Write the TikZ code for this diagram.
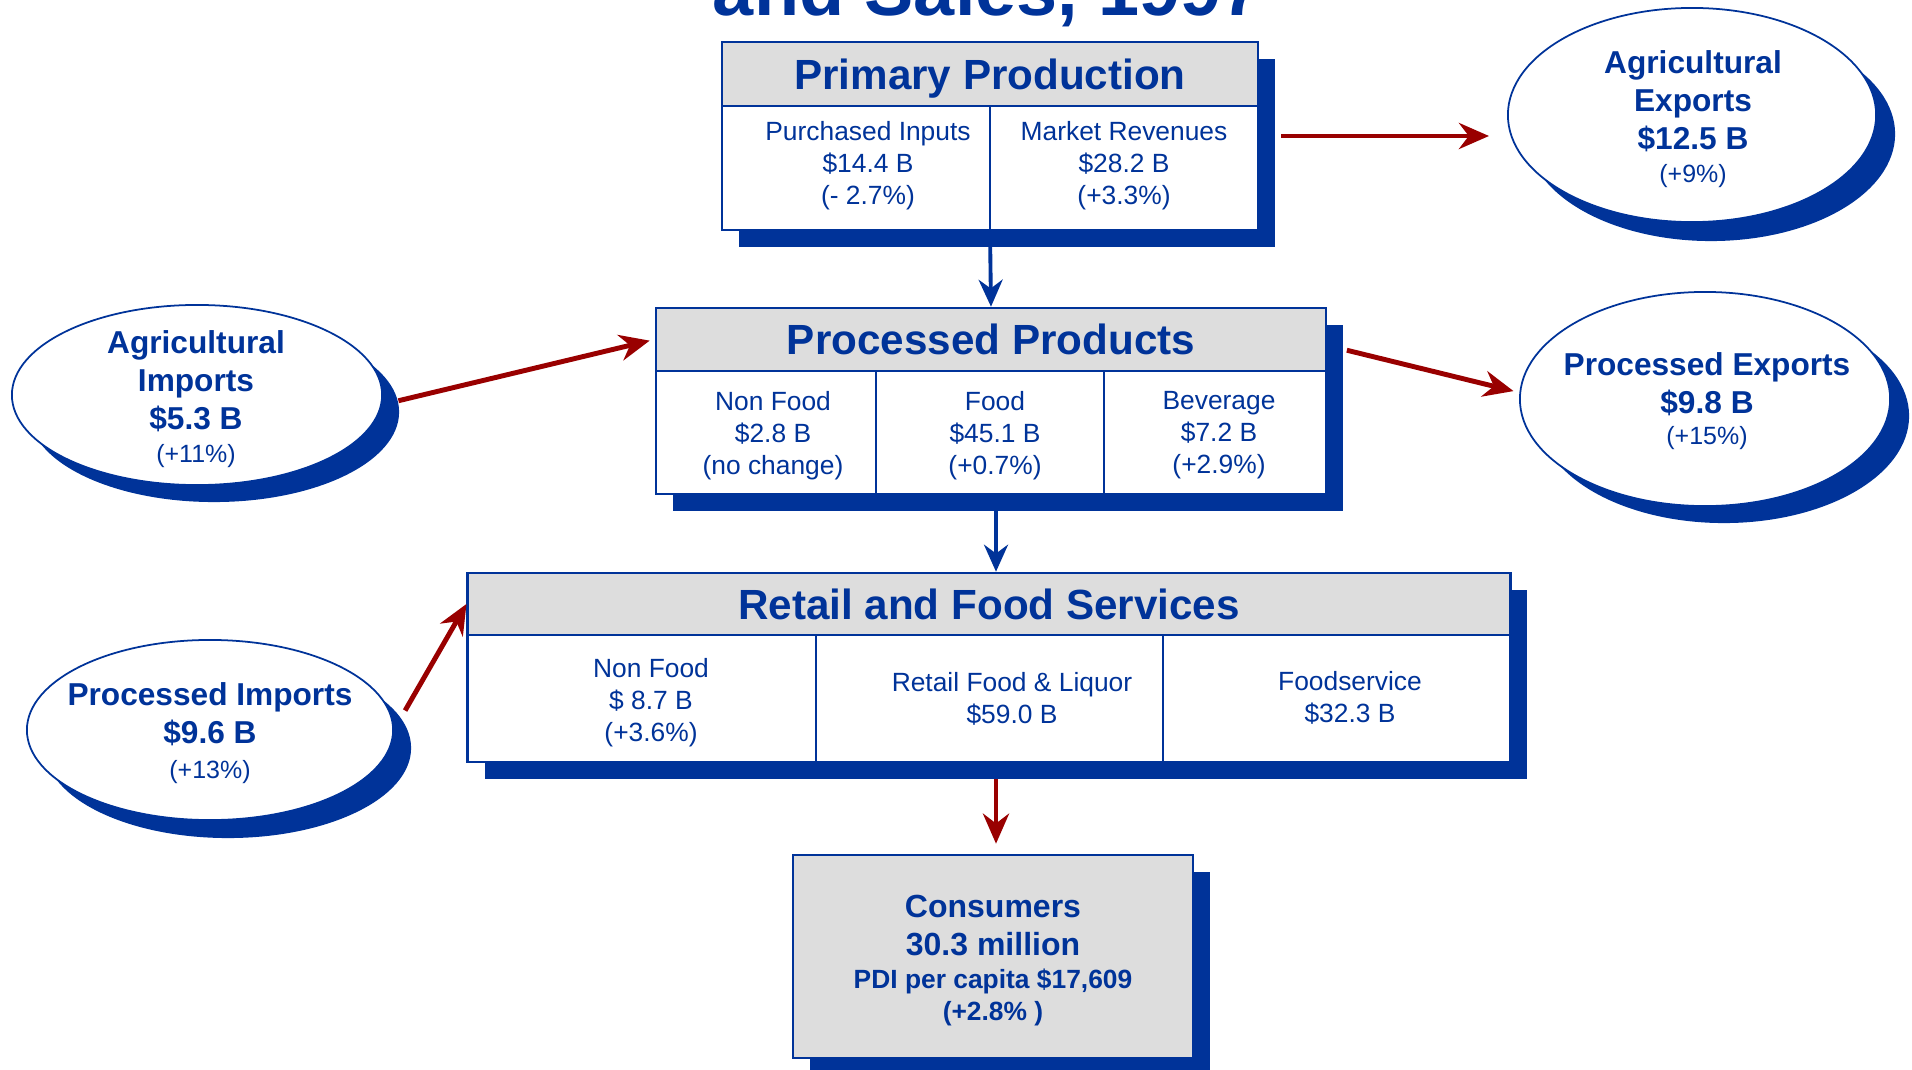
\documentclass[tikz,border=0pt]{standalone}
\usepackage{fontspec}
\setmainfont{Liberation Sans}
\usetikzlibrary{
  positioning,
  shapes.geometric,
  arrows.meta,
  }
\definecolor{dblue}{RGB}{0,51,153}
\definecolor{dred}{RGB}{153,0,0}
\definecolor{hgray}{RGB}{221,221,221}
\tikzset{
  boxsh/.style={rectangle, fill=dblue},
  body/.style={rectangle, draw=dblue, line width=0.7pt, fill=white},
  head/.style={rectangle, draw=dblue, line width=0.7pt, fill=hgray, anchor=north, text depth=0pt,
    font=\fontsize{12}{14}\selectfont\bfseries},
  cell/.style={align=center, font=\fontsize{7.5}{9.1}\selectfont},
  ovalsh/.style={ellipse, fill=dblue},
  oval/.style={ellipse, draw=dblue, line width=0.5pt, fill=white},
  ovaltext/.style={align=center, font=\fontsize{9}{10.8}\selectfont\bfseries},
  divline/.style={draw=dblue, line width=0.7pt},
  bluearr/.style={draw=dblue, line width=1.1pt, -{Stealth[length=0.27cm,width=0.24cm]}},
  redarr/.style={draw=dred, line width=1.4pt, -{Stealth[length=0.3cm,width=0.26cm]}},
}
\newcommand{\pc}[1]{{\fontsize{7.1}{9}\selectfont\mdseries #1}}
\begin{document}
\begin{tikzpicture}[x=0.01cm, y=-0.01cm, every node/.style={text=dblue, inner sep=0pt}]
    \useasboundingbox (0,0) rectangle (1912,1070);

    \node[anchor=base, font=\fontsize{21}{25}\selectfont\bfseries] (ttl) at (988,16) {and Sales, 1997};

    \node[boxsh, minimum width=5.36cm, minimum height=1.88cm] (prodsh) at (1007,153) {};
    \node[body, minimum width=5.36cm, minimum height=1.88cm] (prod) at (990,136) {};
    \node[head, minimum width=5.36cm, minimum height=0.64cm] (prodh) at (prod.north) {Primary Production};
    \draw[divline] (prodh.south) -- (prod.south);
    \node[cell] (prod1) at (868,165.5) {Purchased Inputs\\\$14.4 B\\(- 2.7\%)};
    \node[cell] (prod2) at (1124,165.5) {Market Revenues\\\$28.2 B\\(+3.3\%)};

    \node[boxsh, minimum width=6.70cm, minimum height=1.86cm] (procsh) at (1008,418) {};
    \node[body, minimum width=6.70cm, minimum height=1.86cm] (proc) at (991,401) {};
    \node[head, minimum width=6.70cm, minimum height=0.63cm] (proch) at (proc.north) {Processed Products};
    \draw[divline] (proch.south -| 876,0) -- (proc.south -| 876,0);
    \draw[divline] (proch.south -| 1104,0) -- (proc.south -| 1104,0);
    \node[cell] (proc1) at (773,435.5) {Non Food\\\$2.8 B\\(no change)};
    \node[cell] (proc2) at (995,435.5) {Food\\\$45.1 B\\(+0.7\%)};
    \node[cell] (proc3) at (1219,435.5) {Beverage\\\$7.2 B\\(+2.9\%)};

    \node[boxsh, minimum width=10.42cm, minimum height=1.89cm] (retsh) at (1006,684.5) {};
    \node[body, minimum width=10.42cm, minimum height=1.89cm] (ret) at (989,667.5) {};
    \node[head, minimum width=10.42cm, minimum height=0.62cm] (reth) at (ret.north) {Retail and Food Services};
    \draw[divline] (reth.south -| 816,0) -- (ret.south -| 816,0);
    \draw[divline] (reth.south -| 1163,0) -- (ret.south -| 1163,0);
    \node[cell] (ret1) at (651,702.5) {Non Food\\\$ 8.7 B\\(+3.6\%)};
    \node[cell] (ret2) at (1012,698.5) {Retail Food \& Liquor\\\$59.0 B};
    \node[cell] (ret3) at (1350,697.5) {Foodservice\\\$32.3 B};

    \node[boxsh, minimum width=4.00cm, minimum height=2.03cm] (conssh) at (1010,973.5) {};
    \node[body, fill=hgray, minimum width=4.00cm, minimum height=2.03cm] (cons) at (993,956.5) {};
    \node[align=center, font=\fontsize{9.1}{10.8}\selectfont\bfseries] (const) at (993,960.5)
      {Consumers\\30.3 million\\[-1.4pt]{\fontsize{7.5}{9.2}\selectfont PDI per capita \$17,609}\\[-1.7pt]{\fontsize{7.5}{9.2}\selectfont (+2.8\% )}};

    \node[ovalsh, minimum width=3.68cm, minimum height=2.14cm] (agexpsh) at (1711,134) {};
    \node[oval, minimum width=3.68cm, minimum height=2.14cm] (agexp) at (1692,115) {};
    \node[ovaltext] (agexpt) at (1693,119) {Agricultural\\Exports\\\$12.5 B\\[-1.4pt]\pc{(+9\%)}};

    \node[ovalsh, minimum width=3.70cm, minimum height=2.14cm] (prcexpsh) at (1724,416) {};
    \node[oval, minimum width=3.70cm, minimum height=2.14cm] (prcexp) at (1705,399) {};
    \node[ovaltext] (prcexpt) at (1707,401) {Processed Exports\\\$9.8 B\\[-2pt]\pc{(+15\%)}};

    \node[ovalsh, minimum width=3.70cm, minimum height=1.80cm] (agimpsh) at (214,412) {};
    \node[oval, minimum width=3.70cm, minimum height=1.80cm] (agimp) at (197,395) {};
    \node[ovaltext] (agimpt) at (196,399) {Agricultural\\Imports\\\$5.3 B\\[-1.4pt]\pc{(+11\%)}};

    \node[ovalsh, minimum width=3.66cm, minimum height=1.80cm] (prcimpsh) at (228,748) {};
    \node[oval, minimum width=3.66cm, minimum height=1.80cm] (prcimp) at (210,730) {};
    \node[ovaltext] (prcimpt) at (210,733) {Processed Imports\\\$9.6 B\\[-1pt]\pc{(+13\%)}};

    \draw[bluearr] (prod.south) -- (proc.north);
    \draw[bluearr] ([xshift=0.05cm]proc.south) -- ([xshift=0.05cm]proc.south |- ret.north);
    \draw[redarr, shorten <=0.16cm, shorten >=0.1cm] ([xshift=0.07cm]ret.south) -- ([xshift=0.07cm]ret.south |- cons.north);
    \draw[redarr, shorten <=0.22cm, shorten >=0.18cm] (prod.east) -- (prod.east -| agexp.west);
    \draw[redarr, shorten <=0.17cm, shorten >=0.05cm] (agimp.-3) -- (proch.west);
    \draw[redarr, shorten <=0.2cm, shorten >=0.06cm] ([yshift=-0.06cm]proch.east) -- (prcexp.178);
    \draw[redarr, shorten <=0.08cm] (prcimpsh.10) -- (reth.west);
\end{tikzpicture}
\end{document}
